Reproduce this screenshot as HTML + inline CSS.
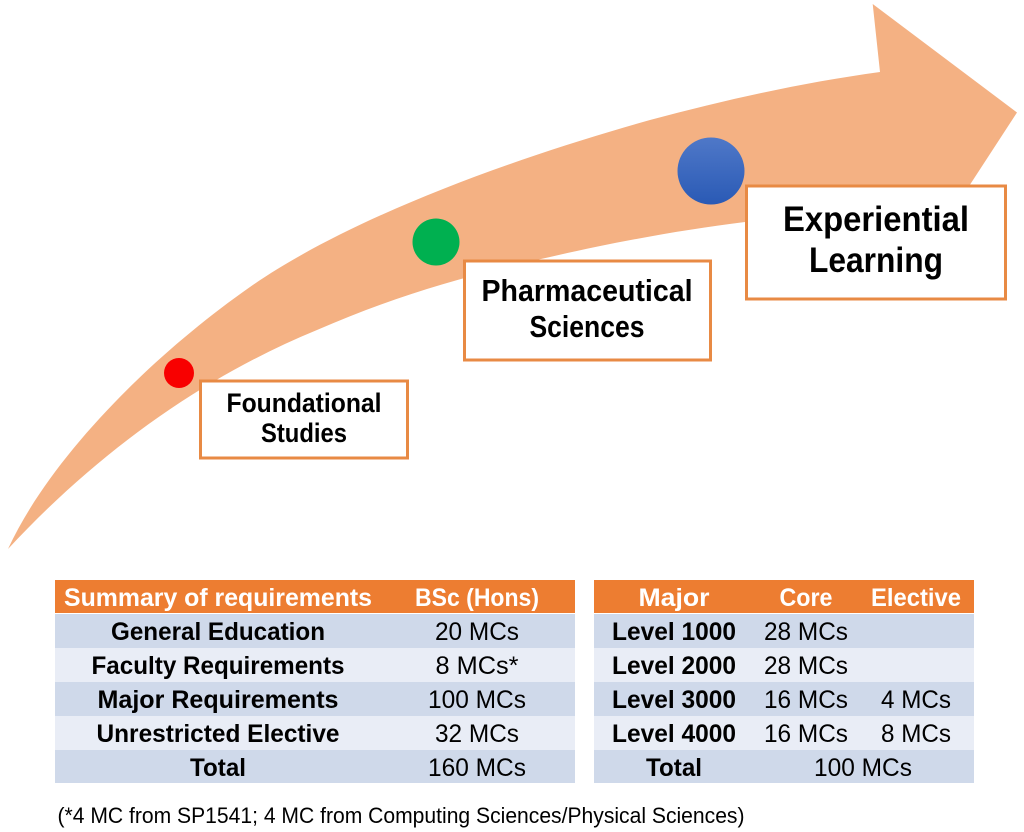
<!DOCTYPE html>
<html><head><meta charset="utf-8"><style>
html,body{margin:0;padding:0;background:#fff}
svg{display:block}
text{font-family:"Liberation Sans",sans-serif;text-anchor:middle;fill:#000}
.b{font-weight:bold}
.h{font-weight:bold;fill:#fff;font-size:25px}
.t{font-size:25px}
</style></head><body>
<svg width="1024" height="832" viewBox="0 0 1024 832" xmlns="http://www.w3.org/2000/svg">
<defs><linearGradient id="g" x1="0" y1="0" x2="0" y2="1"><stop offset="0" stop-color="#4f78c8"/><stop offset="1" stop-color="#2a5ab5"/></linearGradient></defs>
<path d="M8 549C50 458 150 357 250 287C340 224 490 165 650 120C725 100 800 83 880 72L872.700 4L1017 112.500L960 200L745 222C680 230 610 243 550 257C460 277 390 298 317 330C200 378 95 455 8 549Z" fill="#f4b183"/>
<circle cx="179" cy="373" r="15" fill="#f80000"/>
<circle cx="436" cy="242" r="23.500" fill="#00b050"/>
<circle cx="711" cy="171" r="33.500" fill="url(#g)"/>
<rect x="200.500" y="381" width="207" height="77" fill="#fff" stroke="#e88a44" stroke-width="3"/>
<rect x="464.500" y="261" width="246" height="99" fill="#fff" stroke="#e88a44" stroke-width="3"/>
<rect x="746.500" y="186" width="259" height="113" fill="#fff" stroke="#e88a44" stroke-width="3"/>
<text class="b" x="304" y="412" font-size="27" textLength="155" lengthAdjust="spacingAndGlyphs">Foundational</text>
<text class="b" x="304" y="442" font-size="27" textLength="86" lengthAdjust="spacingAndGlyphs">Studies</text>
<text class="b" x="587" y="301" font-size="31" textLength="211" lengthAdjust="spacingAndGlyphs">Pharmaceutical</text>
<text class="b" x="587" y="337" font-size="31" textLength="115" lengthAdjust="spacingAndGlyphs">Sciences</text>
<text class="b" x="876" y="231" font-size="35" textLength="186" lengthAdjust="spacingAndGlyphs">Experiential</text>
<text class="b" x="876" y="272" font-size="35" textLength="134" lengthAdjust="spacingAndGlyphs">Learning</text>

<rect x="55" y="580" width="520" height="33" fill="#ed7d31"/>
<rect x="55" y="614" width="520" height="34" fill="#cfd9ea"/>
<rect x="55" y="648" width="520" height="34" fill="#e9edf6"/>
<rect x="55" y="682" width="520" height="34" fill="#cfd9ea"/>
<rect x="55" y="716" width="520" height="34" fill="#e9edf6"/>
<rect x="55" y="750" width="520" height="33" fill="#cfd9ea"/>
<rect x="594" y="580" width="380" height="33" fill="#ed7d31"/>
<rect x="594" y="614" width="380" height="34" fill="#cfd9ea"/>
<rect x="594" y="648" width="380" height="34" fill="#e9edf6"/>
<rect x="594" y="682" width="380" height="34" fill="#cfd9ea"/>
<rect x="594" y="716" width="380" height="34" fill="#e9edf6"/>
<rect x="594" y="750" width="380" height="33" fill="#cfd9ea"/>

<text class="h" x="218" y="606" textLength="308" lengthAdjust="spacingAndGlyphs">Summary of requirements</text>
<text class="h" x="477" y="606" textLength="124" lengthAdjust="spacingAndGlyphs">BSc (Hons)</text>
<text class="t b" x="218" y="640" textLength="214" lengthAdjust="spacingAndGlyphs">General Education</text>
<text class="t" x="477" y="640" textLength="84" lengthAdjust="spacingAndGlyphs">20 MCs</text>
<text class="t b" x="218" y="674" textLength="253" lengthAdjust="spacingAndGlyphs">Faculty Requirements</text>
<text class="t" x="477" y="674" textLength="83" lengthAdjust="spacingAndGlyphs">8 MCs*</text>
<text class="t b" x="218" y="708" textLength="241" lengthAdjust="spacingAndGlyphs">Major Requirements</text>
<text class="t" x="477" y="708" textLength="98" lengthAdjust="spacingAndGlyphs">100 MCs</text>
<text class="t b" x="218" y="742" textLength="243" lengthAdjust="spacingAndGlyphs">Unrestricted Elective</text>
<text class="t" x="477" y="742" textLength="84" lengthAdjust="spacingAndGlyphs">32 MCs</text>
<text class="t b" x="218" y="776" textLength="56" lengthAdjust="spacingAndGlyphs">Total</text>
<text class="t" x="477" y="776" textLength="98" lengthAdjust="spacingAndGlyphs">160 MCs</text>

<text class="h" x="674" y="606" textLength="71" lengthAdjust="spacingAndGlyphs">Major</text>
<text class="h" x="806" y="606" textLength="53" lengthAdjust="spacingAndGlyphs">Core</text>
<text class="h" x="916" y="606" textLength="90" lengthAdjust="spacingAndGlyphs">Elective</text>
<text class="t b" x="674" y="640" textLength="124" lengthAdjust="spacingAndGlyphs">Level 1000</text>
<text class="t" x="806" y="640" textLength="84" lengthAdjust="spacingAndGlyphs">28 MCs</text>
<text class="t b" x="674" y="674" textLength="124" lengthAdjust="spacingAndGlyphs">Level 2000</text>
<text class="t" x="806" y="674" textLength="84" lengthAdjust="spacingAndGlyphs">28 MCs</text>
<text class="t b" x="674" y="708" textLength="124" lengthAdjust="spacingAndGlyphs">Level 3000</text>
<text class="t" x="806" y="708" textLength="84" lengthAdjust="spacingAndGlyphs">16 MCs</text>
<text class="t" x="916" y="708" textLength="70" lengthAdjust="spacingAndGlyphs">4 MCs</text>
<text class="t b" x="674" y="742" textLength="124" lengthAdjust="spacingAndGlyphs">Level 4000</text>
<text class="t" x="806" y="742" textLength="84" lengthAdjust="spacingAndGlyphs">16 MCs</text>
<text class="t" x="916" y="742" textLength="70" lengthAdjust="spacingAndGlyphs">8 MCs</text>
<text class="t b" x="674" y="776" textLength="56" lengthAdjust="spacingAndGlyphs">Total</text>
<text class="t" x="863" y="776" textLength="98" lengthAdjust="spacingAndGlyphs">100 MCs</text>

<text x="401" y="823" font-size="22" textLength="687" lengthAdjust="spacingAndGlyphs">(*4 MC from SP1541; 4 MC from Computing Sciences/Physical Sciences)</text>
</svg>
</body></html>
